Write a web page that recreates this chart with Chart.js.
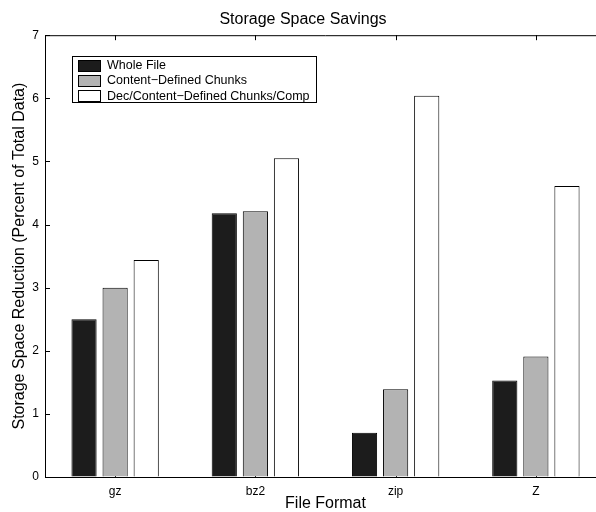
<!DOCTYPE html>
<html lang="en">
<head>
    <meta charset="UTF-8">
    <title>Storage Space Savings</title>
    <script src="https://cdn.jsdelivr.net/npm/chart.js"></script>
    <style>
        html, body {
            margin: 0;
            padding: 0;
            background: #fff;
            overflow: hidden;
            width: 596px;
            height: 512px;
        }
        #chart {
            position: absolute;
            left: 0;
            top: 0;
        }
    </style>
</head>
<body>
    <canvas id="chart" width="652" height="512"></canvas>

    <script>
        const formats = ['gz', 'bz2', 'zip', 'Z'];
        const seriesNames = ['Whole File', 'Content\u2212Defined Chunks', 'Dec/Content\u2212Defined Chunks/Comp'];
        const wholeFile = [2.50, 4.18, 0.70, 1.53];
        const contentChunks = [3.00, 4.21, 1.39, 1.91];
        const decChunksComp = [3.44, 5.05, 6.04, 4.61];
        const yTicks = [0, 1, 2, 3, 4, 5, 6, 7];
        const fills = ['#1c1c1c', '#b3b3b3', '#ffffff'];

        const FONT = 'Liberation Sans, Arial, Helvetica, sans-serif';

        // MATLAB-style box: top edge plus small inward tick marks, drawn under the bars
        const boxTicks = {
            id: 'boxTicks',
            beforeDatasetsDraw(chart) {
                const {ctx, chartArea} = chart;
                const x = chart.scales.x, y = chart.scales.y;
                ctx.save();
                ctx.strokeStyle = '#000';
                ctx.lineWidth = 1;
                ctx.beginPath();
                ctx.moveTo(chartArea.left, chartArea.top + 0.5);
                ctx.lineTo(chartArea.right, chartArea.top + 0.5);
                formats.forEach((f, i) => {
                    const px = Math.round(x.getPixelForValue(i)) + 0.5;
                    ctx.moveTo(px, chartArea.top);
                    ctx.lineTo(px, chartArea.top + 5);
                    ctx.moveTo(px, chartArea.bottom);
                    ctx.lineTo(px, chartArea.bottom - 5);
                });
                yTicks.forEach(v => {
                    const py = Math.round(y.getPixelForValue(v)) + 0.5;
                    ctx.moveTo(chartArea.left, py);
                    ctx.lineTo(chartArea.left + 5, py);
                });
                ctx.stroke();
                ctx.restore();
            }
        };

        // legend box in the upper left corner of the axes
        const boxLegend = {
            id: 'boxLegend',
            afterDatasetsDraw(chart) {
                const {ctx, chartArea} = chart;
                const bx = Math.round(chartArea.left + 27) + 0.5;
                const by = Math.round(chartArea.top + 21) + 0.5;
                const bw = 244, bh = 46;
                ctx.save();
                ctx.fillStyle = '#fff';
                ctx.fillRect(bx, by, bw, bh);
                ctx.strokeStyle = '#000';
                ctx.lineWidth = 1;
                ctx.strokeRect(bx, by, bw, bh);
                ctx.font = '12.5px ' + FONT;
                ctx.textBaseline = 'middle';
                chart.data.datasets.forEach((ds, i) => {
                    const cy = by + 8.5 + i * 15.3;
                    ctx.fillStyle = ds.backgroundColor;
                    ctx.fillRect(bx + 6, Math.round(cy - 5.5) + 0.5, 22, 11);
                    ctx.strokeRect(bx + 6, Math.round(cy - 5.5) + 0.5, 22, 11);
                    ctx.fillStyle = '#000';
                    ctx.fillText(ds.label, bx + 34.5, cy + 0.5);
                });
                ctx.restore();
            }
        };

        const datasets = [wholeFile, contentChunks, decChunksComp].map((vals, i) => ({
            label: seriesNames[i],
            data: vals,
            backgroundColor: fills[i],
            borderColor: '#000',
            borderWidth: 1,
            categoryPercentage: 0.665,
            barPercentage: 0.81
        }));

        new Chart(document.getElementById('chart'), {
            type: 'bar',
            data: { labels: formats, datasets: datasets },
            options: {
                responsive: false,
                animation: false,
                layout: { padding: { left: 0, right: 46, top: 0, bottom: 0 } },
                plugins: {
                    legend: { display: false },
                    tooltip: { enabled: false },
                    title: {
                        display: true,
                        text: 'Storage Space Savings',
                        color: '#000',
                        font: { family: FONT, size: 16, weight: 'normal', lineHeight: 1.2 },
                        padding: { top: 10, bottom: 6 }
                    }
                },
                scales: {
                    x: {
                        grid: { display: true, drawOnChartArea: false, drawTicks: false },
                        border: { display: true, color: '#000', width: 1 },
                        ticks: { color: '#000', padding: 7, font: { family: FONT, size: 12 } },
                        title: {
                            display: true,
                            text: 'File Format',
                            color: '#000',
                            font: { family: FONT, size: 16, lineHeight: 1 },
                            padding: { top: 0, bottom: 0 }
                        },
                        afterFit(scale) { scale.height = 35; }
                    },
                    y: {
                        min: 0,
                        max: 7,
                        grid: { display: true, drawOnChartArea: false, drawTicks: false },
                        border: { display: true, color: '#000', width: 1 },
                        ticks: {
                            stepSize: 1,
                            color: '#000',
                            padding: 6,
                            font: { family: FONT, size: 12 }
                        },
                        afterBuildTicks(scale) { scale.ticks = yTicks.map(v => ({ value: v })); },
                        title: {
                            display: true,
                            text: 'Storage Space Reduction (Percent of Total Data)',
                            color: '#000',
                            font: { family: FONT, size: 16, lineHeight: 1 },
                            padding: { top: 12, bottom: 0 }
                        },
                        afterFit(scale) { scale.width = 45; }
                    }
                }
            },
            plugins: [boxTicks, boxLegend]
        });
    </script>
</body>
</html>
